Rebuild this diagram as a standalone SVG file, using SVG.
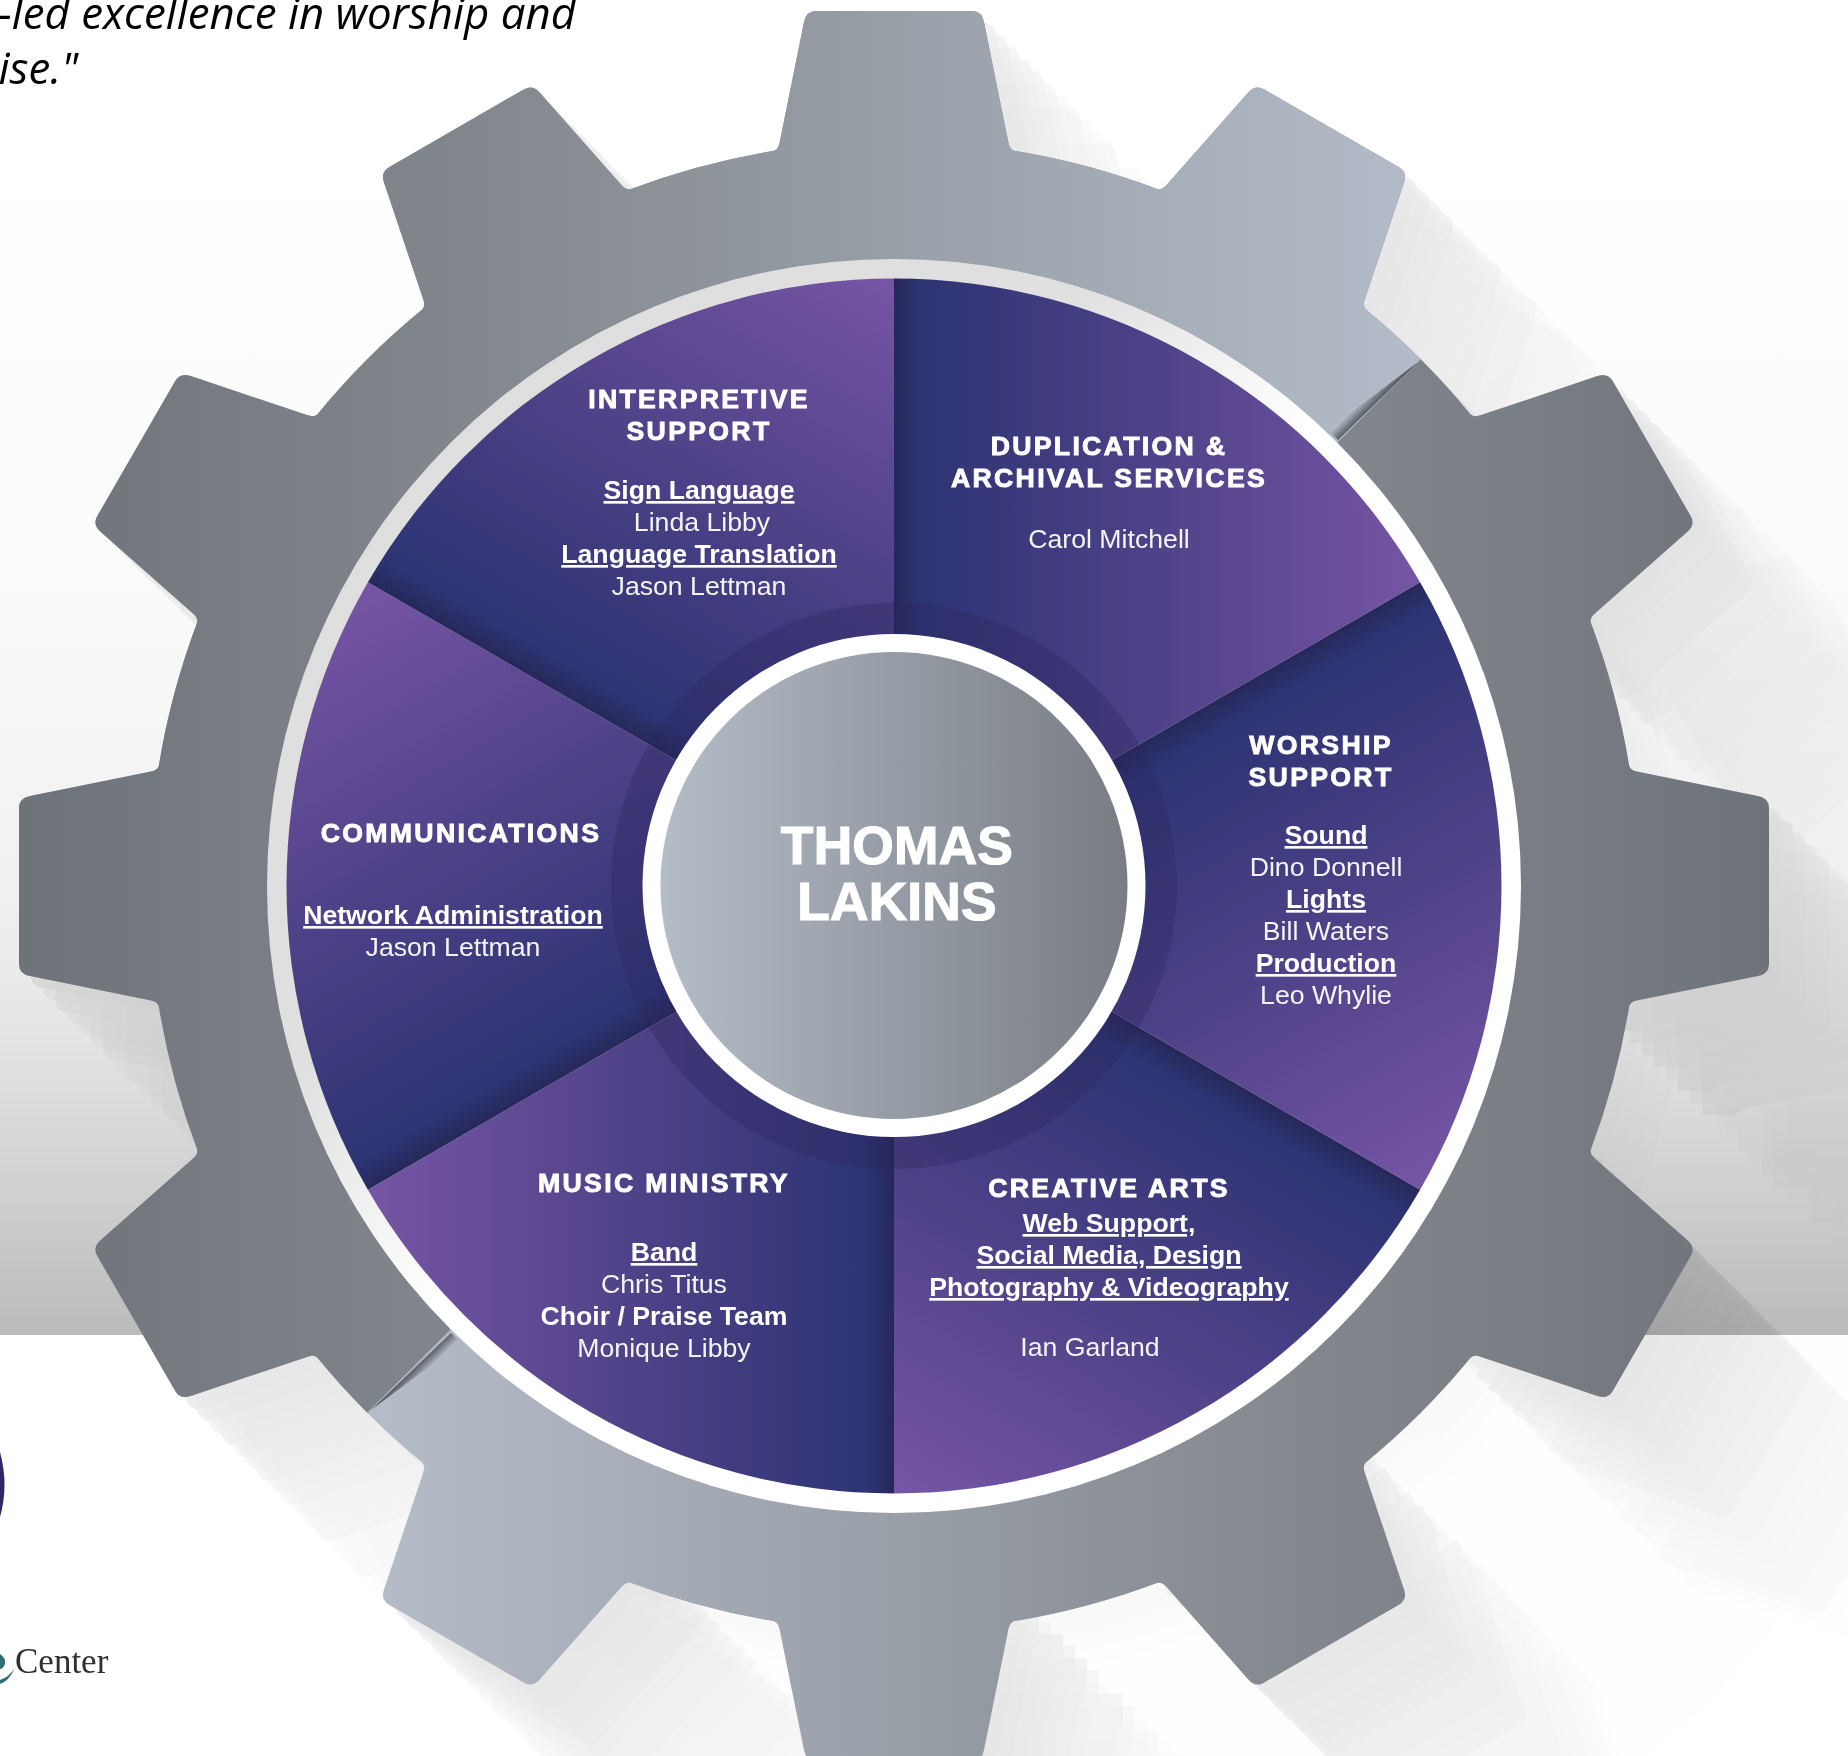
<svg xmlns="http://www.w3.org/2000/svg" xmlns:xlink="http://www.w3.org/1999/xlink" width="1848" height="1756" viewBox="0 0 1848 1756">
<style>
text{font-family:"Liberation Sans",Arial,sans-serif;font-size:26.67px;fill:#f4f4f4;text-anchor:middle}
.h{font-weight:bold;fill:#fff;letter-spacing:2.3px;stroke:#fff;stroke-width:.9px}
.b{font-weight:bold;fill:#fff}
.u{font-weight:bold;fill:#fff;text-decoration:underline}
.c{font-size:53.33px;font-weight:bold;fill:#fff;stroke:#fff;stroke-width:1.2px;letter-spacing:.2px}
.q{font-family:"Open Sans","Noto Sans",sans-serif;font-style:italic;font-size:43.8px;fill:#000;text-anchor:end}
.s{opacity:.005}
</style>
<defs>
<linearGradient id="bg" gradientUnits="userSpaceOnUse" x1="0" y1="150" x2="0" y2="1335">
<stop offset="0" stop-color="#fff"/><stop offset=".38" stop-color="#fafafa"/><stop offset=".63" stop-color="#f0f0f0"/><stop offset=".717" stop-color="#e8e8e8"/><stop offset=".802" stop-color="#dcdcdc"/><stop offset=".886" stop-color="#cfcfcf"/><stop offset="1" stop-color="#bbb"/>
</linearGradient>
<linearGradient id="gearA" gradientUnits="userSpaceOnUse" x1="19" y1="0" x2="1400" y2="0">
<stop offset="0" stop-color="#6e737a"/><stop offset=".35" stop-color="#84898f"/><stop offset="1" stop-color="#b2bbc7"/>
</linearGradient>
<linearGradient id="gearB" gradientUnits="userSpaceOnUse" x1="380" y1="0" x2="1769" y2="0">
<stop offset="0" stop-color="#b4bcc8"/><stop offset=".65" stop-color="#84898f"/><stop offset="1" stop-color="#6e737a"/>
</linearGradient>
<linearGradient id="ring" gradientUnits="userSpaceOnUse" x1="400" y1="400" x2="1000" y2="1000">
<stop offset="0" stop-color="#dedede"/><stop offset=".48" stop-color="#e0e0e0"/><stop offset=".78" stop-color="#fff"/>
</linearGradient>
<linearGradient id="sec" gradientUnits="userSpaceOnUse" x1="894" y1="0" x2="1420" y2="0">
<stop offset="0" stop-color="#26285a"/><stop offset=".05" stop-color="#2d3473"/><stop offset=".5" stop-color="#4f4288"/><stop offset="1" stop-color="#7655a5"/>
</linearGradient>
<linearGradient id="hubF" gradientUnits="userSpaceOnUse" x1="660" y1="0" x2="1128" y2="0">
<stop offset="0" stop-color="#b4bcc7"/><stop offset="1" stop-color="#787d84"/>
</linearGradient>
<linearGradient id="seamA" gradientUnits="userSpaceOnUse" x1="1378" y1="401" x2="1370" y2="393">
<stop offset="0" stop-color="#4a4d55" stop-opacity=".9"/><stop offset="1" stop-color="#4a4d55" stop-opacity="0"/>
</linearGradient>
<linearGradient id="seamB" gradientUnits="userSpaceOnUse" x1="411" y1="1371" x2="419" y2="1379">
<stop offset="0" stop-color="#4a4d55" stop-opacity=".9"/><stop offset="1" stop-color="#4a4d55" stop-opacity="0"/>
</linearGradient>
<path id="tooth" d="M-121,-700V-735Q-116,-736 -114.5,-743L-90,-864Q-88,-875 -78,-875H78Q88,-875 90,-864L114.5,-743Q116,-736 121,-735V-700Z"/>
<g id="sil">
<circle cx="894" cy="886" r="745"/>
<g transform="translate(894 886)">
<use xlink:href="#tooth"/><use xlink:href="#tooth" transform="rotate(30)"/><use xlink:href="#tooth" transform="rotate(60)"/><use xlink:href="#tooth" transform="rotate(90)"/><use xlink:href="#tooth" transform="rotate(120)"/><use xlink:href="#tooth" transform="rotate(150)"/><use xlink:href="#tooth" transform="rotate(180)"/><use xlink:href="#tooth" transform="rotate(210)"/><use xlink:href="#tooth" transform="rotate(240)"/><use xlink:href="#tooth" transform="rotate(270)"/><use xlink:href="#tooth" transform="rotate(300)"/><use xlink:href="#tooth" transform="rotate(330)"/>
</g>
</g>
<g id="L1"><use xlink:href="#sil" x="12" y="12"/></g>
<g id="L2"><use xlink:href="#L1"/><use xlink:href="#sil" x="24" y="24"/></g>
<g id="L3"><use xlink:href="#L2"/><use xlink:href="#sil" x="36" y="36"/></g>
<g id="L4"><use xlink:href="#L3"/><use xlink:href="#sil" x="48" y="48"/></g>
<g id="L5"><use xlink:href="#L4"/><use xlink:href="#sil" x="60" y="60"/></g>
<g id="L6"><use xlink:href="#L5"/><use xlink:href="#sil" x="72" y="72"/></g>
<g id="L7"><use xlink:href="#L6"/><use xlink:href="#sil" x="84" y="84"/></g>
<g id="L8"><use xlink:href="#L7"/><use xlink:href="#sil" x="96" y="96"/></g>
<g id="L9"><use xlink:href="#L8"/><use xlink:href="#sil" x="108" y="108"/></g>
<g id="L10"><use xlink:href="#L9"/><use xlink:href="#sil" x="120" y="120"/></g>
<g id="L11"><use xlink:href="#L10"/><use xlink:href="#sil" x="132" y="132"/></g>
<g id="L12"><use xlink:href="#L11"/><use xlink:href="#sil" x="144" y="144"/></g>
<g id="L13"><use xlink:href="#L12"/><use xlink:href="#sil" x="156" y="156"/></g>
<g id="L14"><use xlink:href="#L13"/><use xlink:href="#sil" x="168" y="168"/></g>
<g id="L15"><use xlink:href="#L14"/><use xlink:href="#sil" x="180" y="180"/></g>
<g id="L16"><use xlink:href="#L15"/><use xlink:href="#sil" x="192" y="192"/></g>
<g id="L17"><use xlink:href="#L16"/><use xlink:href="#sil" x="204" y="204"/></g>
<g id="L18"><use xlink:href="#L17"/><use xlink:href="#sil" x="216" y="216"/></g>
<g id="L19"><use xlink:href="#L18"/><use xlink:href="#sil" x="228" y="228"/></g>
<g id="L20"><use xlink:href="#L19"/><use xlink:href="#sil" x="240" y="240"/></g>
<g id="L21"><use xlink:href="#L20"/><use xlink:href="#sil" x="252" y="252"/></g>
<g id="L22"><use xlink:href="#L21"/><use xlink:href="#sil" x="264" y="264"/></g>
<g id="L23"><use xlink:href="#L22"/><use xlink:href="#sil" x="276" y="276"/></g>
<g id="L24"><use xlink:href="#L23"/><use xlink:href="#sil" x="288" y="288"/></g>
<clipPath id="gearClip">
<circle cx="894" cy="886" r="745"/>
<use xlink:href="#tooth" transform="translate(894 886)"/><use xlink:href="#tooth" transform="translate(894 886) rotate(30)"/><use xlink:href="#tooth" transform="translate(894 886) rotate(60)"/><use xlink:href="#tooth" transform="translate(894 886) rotate(90)"/><use xlink:href="#tooth" transform="translate(894 886) rotate(120)"/><use xlink:href="#tooth" transform="translate(894 886) rotate(150)"/><use xlink:href="#tooth" transform="translate(894 886) rotate(180)"/><use xlink:href="#tooth" transform="translate(894 886) rotate(210)"/><use xlink:href="#tooth" transform="translate(894 886) rotate(240)"/><use xlink:href="#tooth" transform="translate(894 886) rotate(270)"/><use xlink:href="#tooth" transform="translate(894 886) rotate(300)"/><use xlink:href="#tooth" transform="translate(894 886) rotate(330)"/>
</clipPath>
<clipPath id="half"><polygon points="0,0 1780,0 0,1780"/></clipPath>
<path id="sector" d="M894,886V278.5A607.5,607.5 0 0 1 1420.1,582.25Z" fill="url(#sec)"/>
</defs>

<rect width="1848" height="1756" fill="#fff"/>
<rect y="150" width="1848" height="1185" fill="url(#bg)"/>

<g id="gear-shadow">
<use class="s" xlink:href="#L1"/><use class="s" xlink:href="#L2"/><use class="s" xlink:href="#L3"/><use class="s" xlink:href="#L4"/><use class="s" xlink:href="#L5"/><use class="s" xlink:href="#L6"/><use class="s" xlink:href="#L7"/><use class="s" xlink:href="#L8"/><use class="s" xlink:href="#L9"/><use class="s" xlink:href="#L10"/><use class="s" xlink:href="#L11"/><use class="s" xlink:href="#L12"/><use class="s" xlink:href="#L13"/><use class="s" xlink:href="#L14"/><use class="s" xlink:href="#L15"/><use class="s" xlink:href="#L16"/><use class="s" xlink:href="#L17"/><use class="s" xlink:href="#L18"/><use class="s" xlink:href="#L19"/><use class="s" xlink:href="#L20"/><use class="s" xlink:href="#L21"/><use class="s" xlink:href="#L22"/><use class="s" xlink:href="#L23"/><use class="s" xlink:href="#L24"/>
</g>

<g id="gear">
<rect width="1848" height="1756" fill="url(#gearB)" clip-path="url(#gearClip)"/>
<g clip-path="url(#half)"><rect width="1848" height="1756" fill="url(#gearA)" clip-path="url(#gearClip)"/></g>
<polygon points="1338,440 1418,362 1328,430" fill="url(#seamA)"/>
<polygon points="451,1333 371,1410 461,1343" fill="url(#seamB)"/>
<circle cx="894" cy="886" r="627" fill="url(#ring)"/>
</g>

<g id="quote">
<text class="q" x="576" y="29">-led excellence in worship and</text>
<text class="q" x="78" y="84">ise."</text>
</g>

<g id="logo">
<path d="M0,1452Q9,1485 0,1517Z" fill="#2c2a66"/>
<path d="M0,1654Q6,1658 5,1664Q3,1669 0,1669Z" fill="#2e6f75"/>
<path d="M0,1684Q9,1681 15,1668Q9,1677 0,1680Z" fill="#2e6f75"/>
<text x="15" y="1673" style="font-family:'Liberation Serif',serif;font-size:35px;fill:#2f3030;text-anchor:start">Center</text>
</g>

<g id="duplication">
<use xlink:href="#sector"/>
<text class="h" x="1109" y="455">DUPLICATION &amp;</text>
<text class="h" x="1109" y="487">ARCHIVAL SERVICES</text>
<text x="1109" y="548">Carol Mitchell</text>
</g>
<g id="worship">
<use xlink:href="#sector" transform="rotate(60 894 886)"/>
<text class="h" x="1321" y="754">WORSHIP</text>
<text class="h" x="1321" y="786">SUPPORT</text>
<text class="u" x="1326" y="844">Sound</text>
<text x="1326" y="876">Dino Donnell</text>
<text class="u" x="1326" y="908">Lights</text>
<text x="1326" y="940">Bill Waters</text>
<text class="u" x="1326" y="972">Production</text>
<text x="1326" y="1004">Leo Whylie</text>
</g>
<g id="creative">
<use xlink:href="#sector" transform="rotate(120 894 886)"/>
<text class="h" x="1109" y="1197">CREATIVE ARTS</text>
<text class="u" x="1109" y="1232">Web Support,</text>
<text class="u" x="1109" y="1264">Social Media, Design</text>
<text class="u" x="1109" y="1296">Photography &amp; Videography</text>
<text x="1090" y="1356">Ian Garland</text>
</g>
<g id="music">
<use xlink:href="#sector" transform="rotate(180 894 886)"/>
<text class="h" x="664" y="1192">MUSIC MINISTRY</text>
<text class="u" x="664" y="1261">Band</text>
<text x="664" y="1293">Chris Titus</text>
<text class="b" x="664" y="1325">Choir / Praise Team</text>
<text x="664" y="1357">Monique Libby</text>
</g>
<g id="communications">
<use xlink:href="#sector" transform="rotate(240 894 886)"/>
<text class="h" x="461" y="842">COMMUNICATIONS</text>
<text class="u" x="453" y="924">Network Administration</text>
<text x="453" y="956">Jason Lettman</text>
</g>
<g id="interpretive">
<use xlink:href="#sector" transform="rotate(300 894 886)"/>
<text class="h" x="699" y="408">INTERPRETIVE</text>
<text class="h" x="699" y="440">SUPPORT</text>
<text class="u" x="699" y="499">Sign Language</text>
<text x="702" y="531">Linda Libby</text>
<text class="u" x="699" y="563">Language Translation</text>
<text x="699" y="595">Jason Lettman</text>
</g>
<g id="hub">
<circle cx="894" cy="886" r="283" fill="#2a2358" opacity=".3"/>
<circle cx="894" cy="885.5" r="251.5" fill="#fff"/>
<circle cx="894" cy="885.5" r="233.5" fill="url(#hubF)"/>
<text class="c" x="897" y="864">THOMAS</text>
<text class="c" x="897" y="920">LAKINS</text>
</g>
</svg>
